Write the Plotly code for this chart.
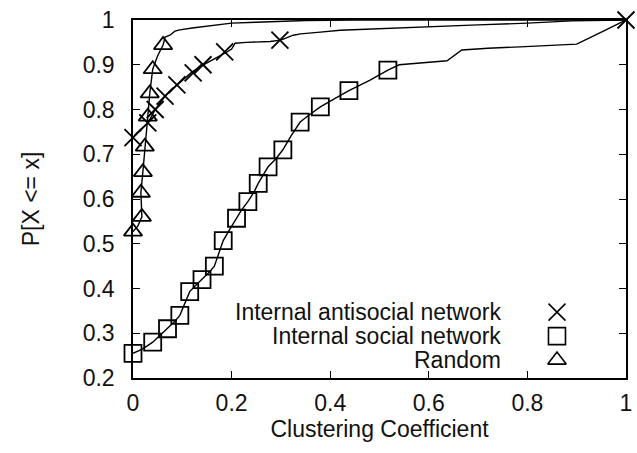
import plotly.graph_objects as go

# ---------------- data ----------------
# Internal antisocial network (X markers)
anti_line_x = [0.0, 0.005, 0.012, 0.02, 0.03, 0.038, 0.045, 0.055, 0.065, 0.077, 0.089, 0.1, 0.12, 0.14, 0.16, 0.175,
               0.19, 0.2, 0.207, 0.23, 0.257, 0.278, 0.3, 0.325, 0.34, 0.355, 0.38, 0.42, 0.5, 0.6, 0.7, 0.8, 0.89, 1.0]
anti_line_y = [0.737, 0.745, 0.752, 0.76, 0.77, 0.785, 0.80, 0.815, 0.83, 0.843, 0.855, 0.866, 0.884, 0.898, 0.91, 0.918,
               0.928, 0.935, 0.948, 0.95, 0.951, 0.952, 0.955, 0.966, 0.969, 0.971, 0.973, 0.977, 0.98, 0.985, 0.989, 0.993, 0.998, 1.0]
anti_mark_x = [0.0, 0.03, 0.045, 0.065, 0.089, 0.122, 0.142, 0.186, 0.298, 1.0]
anti_mark_y = [0.737, 0.77, 0.80, 0.83, 0.855, 0.882, 0.90, 0.929, 0.955, 1.0]

# Internal social network (square markers)
soc_line_x = [0.0, 0.02, 0.04, 0.055, 0.07, 0.085, 0.095, 0.105, 0.115, 0.13, 0.14, 0.155, 0.165, 0.175, 0.183, 0.195,
              0.21, 0.22, 0.233, 0.245, 0.254, 0.264, 0.274, 0.29, 0.304, 0.32, 0.339, 0.36, 0.38, 0.41, 0.438, 0.48,
              0.517, 0.54, 0.6, 0.637, 0.667, 0.72, 0.785, 0.85, 0.9, 0.95, 1.0]
soc_line_y = [0.255, 0.265, 0.28, 0.295, 0.31, 0.327, 0.34, 0.365, 0.393, 0.41, 0.42, 0.437, 0.45, 0.48, 0.507, 0.53,
              0.557, 0.575, 0.594, 0.615, 0.635, 0.655, 0.672, 0.69, 0.71, 0.74, 0.772, 0.79, 0.806, 0.825, 0.842, 0.865,
              0.888, 0.9, 0.905, 0.909, 0.933, 0.937, 0.94, 0.943, 0.946, 0.973, 1.0]
soc_mark_x = [0.0, 0.04, 0.07, 0.095, 0.115, 0.14, 0.165, 0.183, 0.21, 0.233, 0.254, 0.274, 0.304, 0.339, 0.38, 0.438, 0.517]
soc_mark_y = [0.255, 0.28, 0.31, 0.34, 0.393, 0.42, 0.45, 0.507, 0.557, 0.594, 0.635, 0.672, 0.71, 0.772, 0.806, 0.842, 0.888]

# Random (triangle markers)
rnd_line_x = [0.0, 0.01, 0.018, 0.016, 0.02, 0.024, 0.03, 0.034, 0.04, 0.05, 0.061, 0.065, 0.075, 0.085, 0.095, 0.12,
              0.15, 0.2, 0.25, 0.3, 0.35, 0.45, 1.0]
rnd_line_y = [0.527, 0.54, 0.56, 0.614, 0.66, 0.717, 0.784, 0.836, 0.89, 0.92, 0.944, 0.962, 0.966, 0.975, 0.978, 0.982,
              0.986, 0.993, 0.995, 0.997, 0.999, 1.0, 1.0]
rnd_mark_x = [0.0, 0.018, 0.016, 0.02, 0.024, 0.03, 0.034, 0.04, 0.061]
rnd_mark_y = [0.527, 0.56, 0.614, 0.66, 0.717, 0.784, 0.836, 0.89, 0.944]

series_names = ["Internal antisocial network", "Internal social network", "Random"]
series_symbols = ["x-thin-open", "square-open", "triangle-up-open"]
series_sizes = [17, 17, 16]

x_ticks = [0, 0.2, 0.4, 0.6, 0.8, 1]
y_ticks = [0.2, 0.3, 0.4, 0.5, 0.6, 0.7, 0.8, 0.9, 1]

# ---------------- style / layout constants ----------------
FONT = "Liberation Sans, Arial, sans-serif"
FS = 23
INK = "#111111"
LEG_TEXT_X = 0.75          # paper fraction, right edge of legend text
LEG_MARK_X = 0.86          # overlay-axis fraction for legend symbols
LEG_ROWS_Y = [0.184, 0.117, 0.05]

fig = go.Figure()

lines = [(anti_line_x, anti_line_y), (soc_line_x, soc_line_y), (rnd_line_x, rnd_line_y)]
marks = [(anti_mark_x, anti_mark_y), (soc_mark_x, soc_mark_y), (rnd_mark_x, rnd_mark_y)]

for (lx, ly) in lines:
    fig.add_trace(go.Scatter(x=lx, y=ly, mode="lines", line=dict(color="black", width=1.4),
                             showlegend=False, hoverinfo="skip", cliponaxis=False))

for i, (mx, my) in enumerate(marks):
    fig.add_trace(go.Scatter(x=mx, y=my, mode="markers", name=series_names[i],
                             marker=dict(symbol=series_symbols[i], size=series_sizes[i], color="black",
                                         line=dict(color="black", width=1.8)),
                             showlegend=False, cliponaxis=False))

# custom gnuplot-style key: text right-aligned, symbol on the right
for i, name in enumerate(series_names):
    fig.add_annotation(x=LEG_TEXT_X, y=LEG_ROWS_Y[i], xref="paper", yref="paper", text=name,
                       showarrow=False, xanchor="right", yanchor="middle",
                       font=dict(family=FONT, size=FS, color=INK))
    fig.add_trace(go.Scatter(x=[LEG_MARK_X], y=[LEG_ROWS_Y[i]], xaxis="x2", yaxis="y2", mode="markers",
                             marker=dict(symbol=series_symbols[i], size=series_sizes[i], color="black",
                                         line=dict(color="black", width=1.6)),
                             showlegend=False, hoverinfo="skip", cliponaxis=False))

axis_common = dict(showline=True, linecolor="black", linewidth=1.5, mirror="allticks", ticks="inside",
                   ticklen=7, tickwidth=1.3, tickcolor="black", showgrid=False, zeroline=False,
                   tickfont=dict(family=FONT, size=FS, color=INK))

fig.update_layout(
    width=637, height=453,
    margin=dict(l=133, r=11, t=20, b=75, autoexpand=False),
    paper_bgcolor="white", plot_bgcolor="white",
    showlegend=False,
    xaxis=dict(range=[0, 1], tickvals=x_ticks, ticktext=[f"{v:g}" for v in x_ticks],
               ticklabelstandoff=4,
               title=dict(text="Clustering Coefficient", font=dict(family=FONT, size=FS, color=INK), standoff=1),
               **axis_common),
    yaxis=dict(range=[0.2, 1], tickvals=y_ticks, ticktext=[f"{v:g}" for v in y_ticks],
               ticklabelstandoff=12,
               title=dict(text="P[X <= x]", font=dict(family=FONT, size=FS, color=INK), standoff=37),
               **axis_common),
    xaxis2=dict(range=[0, 1], overlaying="x", visible=False),
    yaxis2=dict(range=[0, 1], overlaying="y", visible=False),
)

fig.write_html("out.html")
